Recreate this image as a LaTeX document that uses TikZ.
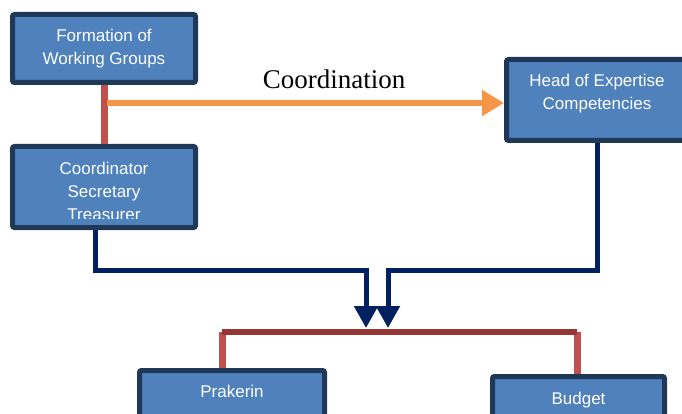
\documentclass[tikz,border=0pt]{standalone}
\usepackage{fontspec}
\setmainfont{Liberation Serif}
\setsansfont{Liberation Sans}
\usetikzlibrary{positioning,arrows.meta}

\definecolor{boxfill}{HTML}{4F81BD}
\definecolor{boxedge}{HTML}{1F3858}
\definecolor{navyline}{HTML}{002060}
\definecolor{redline}{HTML}{C0504D}
\definecolor{darkred}{HTML}{963634}
\definecolor{orangeline}{HTML}{F79646}

\tikzset{
  unitbox/.style={draw=boxedge, fill=boxfill, line width=5pt, rounded corners=2pt, inner sep=0pt},
  boxtext/.style={text=white, font=\sffamily\fontsize{17}{23}\selectfont, align=center, inner sep=0pt},
  flowline/.style={draw=navyline, line width=5pt, -{Triangle[length=22pt,width=23pt]}},
  linkline/.style={draw=redline, line width=7pt},
  barline/.style={draw=darkred, line width=6pt},
  coordarrow/.style={draw=orangeline, line width=6pt, -{Triangle[length=22pt,width=25pt]}}
}

\begin{document}
\begin{tikzpicture}[x=1pt,y=-1pt]
    \clip (0,0) rectangle (682,414);

    % Draw boxes
    \node[unitbox, minimum width=183pt, minimum height=68pt] (form) at (104,48.5) {};
    \node[unitbox, minimum width=183pt, minimum height=81pt] (coord) at (104,187) {};
    \node[unitbox, minimum width=181pt, minimum height=81pt] (head) at (597,100) {};
    \node[unitbox, minimum width=185pt, minimum height=80pt] (prak) at (232,410.5) {};
    \node[unitbox, minimum width=172pt, minimum height=80pt] (budg) at (578.5,416.5) {};

    % Box texts
    \node[boxtext] (formtxt) at (form.center) {Formation of\\Working Groups};
    \node[boxtext] (headtxt) at ([yshift=6pt]head.center) {Head of Expertise\\Competencies};
    \begin{scope}
      \clip (coord.north west) rectangle ([yshift=11.5pt]coord.south east);
      \node[boxtext] (coordtxt) at ([yshift=-4pt]coord.center) {Coordinator\\Secretary\\Treasurer};
    \end{scope}
    \node[boxtext] (praktxt) at ([yshift=-23.5pt]prak.north) {Prakerin};
    \node[boxtext] (budgtxt) at ([yshift=-26pt]budg.north) {Budget};

    % Link between the two left boxes
    \draw[linkline] (form.south) -- (coord.north);

    % Coordination arrow
    \coordinate (cstart) at (107,103);
    \draw[coordarrow] (cstart) -- (cstart -| head.west);
    \node[font=\fontsize{27}{30}\selectfont, anchor=base] (coordlbl) at (334,89) {Coordination};

    % Arrows down to the bar
    \coordinate (bendL) at (366,270);
    \coordinate (bendR) at (388,270);
    \coordinate (tipL) at (366,328);
    \coordinate (tipR) at (388,328);
    \draw[flowline] ([xshift=-9pt]coord.south) |- (bendL) -- (tipL);
    \draw[flowline] (head.south) |- (bendR) -- (tipR);

    % Bar and drops to the lower boxes
    \coordinate (barL) at (222,332);
    \coordinate (barR) at (577,332);
    \draw[linkline] (barL) -- (barL |- prak.north);
    \draw[linkline] (barR) -- (barR |- budg.north);
    \draw[barline] (barL) -- (barR);
\end{tikzpicture}
\end{document}
